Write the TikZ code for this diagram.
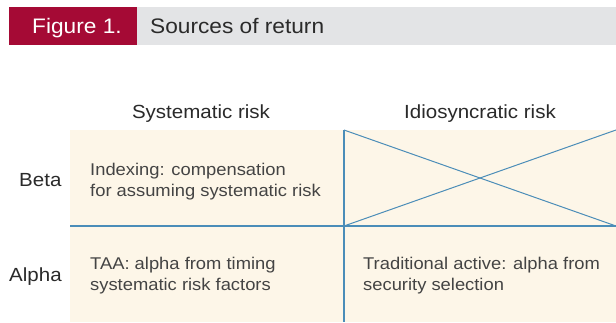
\documentclass[tikz,border=0pt]{standalone}
\usepackage{fontspec}
\setmainfont[FakeStretch=1.08]{Liberation Sans}
\definecolor{figred}{HTML}{A50A35}
\definecolor{figgrey}{HTML}{E3E4E6}
\definecolor{cellfill}{HTML}{FDF6E8}
\definecolor{gridblue}{HTML}{4B8DB8}
\definecolor{txtdark}{HTML}{2A2A2A}
\definecolor{txtcell}{HTML}{444444}
\begin{document}
\begin{tikzpicture}[x=1pt,y=-1pt,
  head/.style={font=\fontsize{19}{22}\selectfont, text=txtdark, inner sep=0pt},
  celltxt/.style={font=\fontsize{17}{21}\selectfont, text=txtcell, inner sep=0pt, align=left},
  gridline/.style={draw=gridblue, line width=1.2pt}]
\useasboundingbox (0,0) rectangle (616,322);
\fill[white] (0,0) rectangle (616,322);
% title bar
\fill[figgrey] (137,7) rectangle (616,45);
\fill[figred] (9,7) rectangle (137,45);
\node[font=\fontsize{21}{24}\selectfont, text=white, anchor=base west, inner sep=0pt] (fig) at (32,33.5) {Figure 1.};
\node[font=\fontsize{21}{24}\selectfont, text=txtdark, anchor=base west, inner sep=0pt] (title) at (150,33.5) {Sources of return};
% cells
\fill[cellfill] (70,130) rectangle (616,322);
\coordinate (tl) at (344,130);
\coordinate (tr) at (616,130);
\coordinate (ml) at (70,226);
\coordinate (mm) at (344,226);
\coordinate (mr) at (616,226);
\coordinate (bm) at (344,322);
\draw[gridline] (ml) -- (mr);
\draw[gridline] (tl) -- (bm);
\draw[gridblue, line width=1pt] (tl) -- (mr);
\draw[gridblue, line width=1pt] (mm) -- (tr);
% headers
\node[head, anchor=base] (sys) at (201,118) {Systematic risk};
\node[head, anchor=base] (idio) at (480,118) {Idiosyncratic risk};
\node[head, anchor=base west] (beta) at (19,186) {Beta};
\node[head, anchor=base west] (alpha) at (9,281.5) {Alpha};
% cell texts (anchor at baseline of last line)
\node[celltxt, anchor=base west] (idx) at (90,196.5) {Indexing: compensation\\for assuming systematic risk};
\node[celltxt, anchor=base west] (taa) at (90,290.5) {TAA: alpha from timing\\systematic risk factors};
\node[celltxt, anchor=base west] (trad) at (363,290.5) {Traditional active: alpha from\\security selection};
\end{tikzpicture}
\end{document}
